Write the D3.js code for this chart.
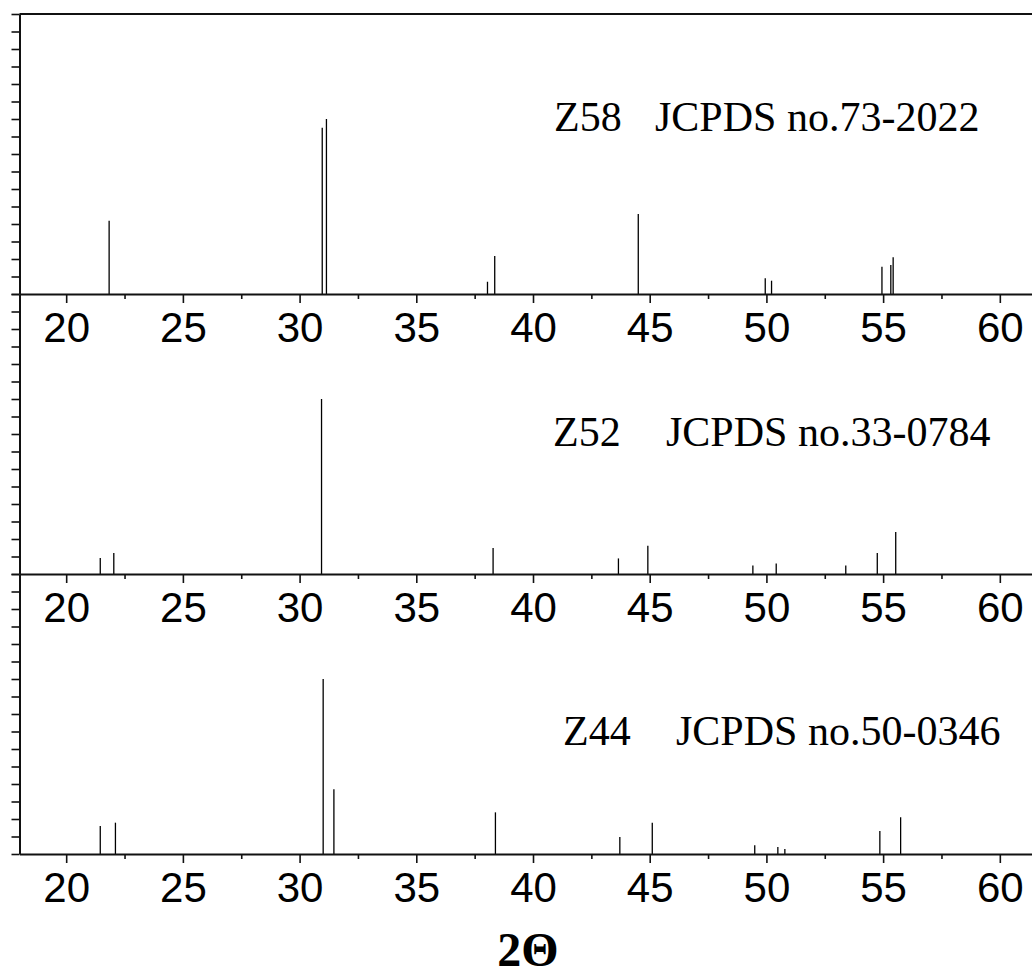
<!DOCTYPE html>
<html>
<head>
<meta charset="utf-8">
<script src="https://cdn.jsdelivr.net/npm/d3@7"></script>
<style>
  html, body { margin: 0; padding: 0; background: #fff; }
  svg { display: block; }
</style>
</head>
<body>
<svg id="chart" width="1032" height="977"></svg>
<script>
// ---- data ----
const xTicksMajor = [20, 25, 30, 35, 40, 45, 50, 55, 60];
const xTicksMinor = [22.5, 27.5, 32.5, 37.5, 42.5, 47.5, 52.5, 57.5];
const yTicks = [0, 10, 20, 30, 40, 50, 60, 70, 80, 90, 100, 110, 120, 130, 140, 150, 160];

const panelNames = ["Z58", "Z52", "Z44"];
const panelRefs = ["JCPDS no.73-2022", "JCPDS no.33-0784", "JCPDS no.50-0346"];

const z58Pos = [21.84, 30.97, 31.15, 38.05, 38.36, 44.51, 49.95, 50.22, 54.95, 55.33, 55.43];
const z58Int = [41.9, 95, 100, 7, 21.7, 45.7, 9, 7.6, 15.6, 16.6, 21];

const z52Pos = [21.46, 22.04, 30.94, 38.29, 43.66, 44.92, 49.42, 50.42, 53.40, 54.75, 55.54];
const z52Int = [9.1, 12, 100, 14.9, 8.9, 16.2, 4.9, 6, 4.9, 12, 24];

const z44Pos = [21.46, 22.11, 31.01, 31.47, 38.39, 43.72, 45.11, 49.50, 50.49, 50.79, 54.86, 55.75];
const z44Int = [16, 17.9, 100, 37, 23.8, 9.7, 17.9, 5, 4, 2.9, 13.1, 21];

const xLabel = "2\u0398";

// ---- layout ----
const svg = d3.select("#chart");
const left = 19.5, right = 1032.5;
const panelTops = [14, 294, 574];
const panelH = 280;
const textPos = [
  { nx: 554, rx: 655, by: 131 },
  { nx: 553, rx: 666, by: 446 },
  { nx: 563, rx: 676, by: 745 }
];

const x = d3.scaleLinear().domain([18, 61.4]).range([left, right]);

const seriesPos = [z58Pos, z52Pos, z44Pos];
const seriesInt = [z58Int, z52Int, z44Int];

// top border
svg.append("line")
  .attr("x1", left).attr("x2", right)
  .attr("y1", panelTops[0]).attr("y2", panelTops[0])
  .attr("stroke", "#111").attr("stroke-width", 2);

panelTops.forEach((top, i) => {
  const base = top + panelH;
  const y = d3.scaleLinear().domain([0, 160]).range([base, top]);
  const g = svg.append("g");

  // peaks
  const data = seriesPos[i].map((p, k) => ({ p, v: seriesInt[i][k] }));
  g.selectAll("line.peak").data(data).join("line")
    .attr("class", "peak")
    .attr("x1", d => x(d.p)).attr("x2", d => x(d.p))
    .attr("y1", y(0)).attr("y2", d => y(d.v))
    .attr("stroke", "#000").attr("stroke-width", 1.3);

  // y axis
  const ya = g.append("g").attr("transform", `translate(${left},0)`)
    .call(d3.axisLeft(y).tickValues(yTicks).tickSize(8).tickSizeOuter(0).tickFormat(""));
  ya.selectAll("path").attr("stroke", "#111").attr("stroke-width", 2);
  ya.selectAll("line").attr("stroke", "#111").attr("stroke-width", 1.6);

  // x axis minor
  const xm = g.append("g").attr("transform", `translate(0,${base})`)
    .call(d3.axisBottom(x).tickValues(xTicksMinor).tickSize(5).tickSizeOuter(0).tickFormat(""));
  xm.select("path").remove();
  xm.selectAll("line").attr("stroke", "#111").attr("stroke-width", 1.6);

  // x axis major
  const xa = g.append("g").attr("transform", `translate(0,${base})`)
    .call(d3.axisBottom(x).tickValues(xTicksMajor).tickSize(9).tickSizeOuter(0).tickPadding(10));
  xa.select("path").attr("stroke", "#111").attr("stroke-width", 2);
  xa.selectAll("line").attr("stroke", "#111").attr("stroke-width", 1.6);
  xa.selectAll("text")
    .attr("font-family", "'Liberation Sans', Arial, sans-serif")
    .attr("font-size", 42)
    .attr("fill", "#000")
    .attr("dy", null)
    .attr("y", 48);

  // annotations
  svg.append("text")
    .attr("x", textPos[i].nx).attr("y", textPos[i].by)
    .attr("font-family", "'Liberation Serif', 'Times New Roman', serif")
    .attr("font-size", 42).attr("fill", "#000")
    .text(panelNames[i]);
  svg.append("text")
    .attr("x", textPos[i].rx).attr("y", textPos[i].by)
    .attr("font-family", "'Liberation Serif', 'Times New Roman', serif")
    .attr("font-size", 42).attr("fill", "#000")
    .text(panelRefs[i]);
});

// x label
svg.append("text")
  .attr("x", 528).attr("y", 966)
  .attr("text-anchor", "middle")
  .attr("font-family", "'Liberation Serif', 'Times New Roman', serif")
  .attr("font-weight", "bold")
  .attr("font-size", 48)
  .attr("fill", "#000")
  .text(xLabel);
</script>
</body>
</html>
